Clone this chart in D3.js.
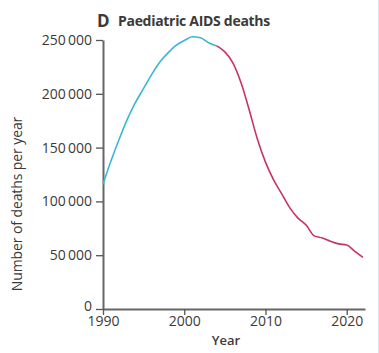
<!DOCTYPE html>
<html>
<head>
<meta charset="utf-8">
<script src="https://cdn.jsdelivr.net/npm/d3@7"></script>
<style>
  body { margin: 0; background: #fff; }
  text { font-family: "Open Sans", sans-serif; fill: #3a3a3a; }
</style>
</head>
<body>
<div id="chart-area"></div>
<script>
var years = d3.range(1990, 2023);
var deaths = [116000, 138000, 158000, 176500, 192000, 205000, 218000, 229500, 238000, 245000,
  249500, 253000, 252000, 247500, 244500, 239000, 228500, 210000, 185000, 158000,
  136500, 120000, 107000, 94000, 84500, 78000, 68000, 66000, 63000, 60500,
  59500, 53500, 48000];
var splitYear = 2004;
var yTicks = [0, 50000, 100000, 150000, 200000, 250000];
var xTicks = [1990, 2000, 2010, 2020];

var data = years.map((d, i) => ({ year: d, value: deaths[i] }));

var svg = d3.select("#chart-area")
  .append("svg")
  .attr("width", 379)
  .attr("height", 353);

var x = d3.scaleLinear()
  .domain([1990, 2022.25])
  .range([103, 365]);

var y = d3.scaleLinear()
  .domain([0, 250000])
  .range([309, 40]);

var fmt = d => d3.format(",")(d).replace(/,/g, "\u2009");

// Y axis
var yAxis = svg.append("g")
  .attr("transform", "translate(103,0)")
  .call(d3.axisLeft(y).tickValues(yTicks).tickSize(7).tickPadding(4).tickFormat(fmt).tickSizeOuter(0));
yAxis.select(".domain").attr("stroke", "#666").attr("stroke-width", 2);
yAxis.selectAll(".tick line").attr("stroke", "#555").attr("stroke-width", 1.3);
yAxis.selectAll("text").attr("font-size", "14px").attr("fill", "#3a3a3a").attr("font-family", "Open Sans");
yAxis.selectAll(".tick").filter(d => d === 0).select("text").attr("dy", "0.08em");

// X axis
var xAxis = svg.append("g")
  .attr("transform", "translate(0,309)")
  .call(d3.axisBottom(x).tickValues(xTicks).tickSize(6).tickPadding(1.5).tickFormat(d3.format("d")).tickSizeOuter(0));
xAxis.select(".domain").attr("stroke", "#666").attr("stroke-width", 2);
xAxis.selectAll(".tick line").attr("stroke", "#555").attr("stroke-width", 1.3);
xAxis.selectAll("text").attr("font-size", "14px").attr("fill", "#3a3a3a").attr("font-family", "Open Sans");

// Lines
var line = d3.line()
  .x(d => x(d.year))
  .y(d => y(d.value))
  .curve(d3.curveMonotoneX);

svg.append("path")
  .datum(data.filter(d => d.year <= splitYear))
  .attr("fill", "none")
  .attr("stroke", "#3bb6d3")
  .attr("stroke-width", 1.6)
  .attr("d", line);

svg.append("path")
  .datum(data.filter(d => d.year >= splitYear))
  .attr("fill", "none")
  .attr("stroke", "#c83462")
  .attr("stroke-width", 1.6)
  .attr("d", line);

// Labels
svg.append("text")
  .attr("x", 226)
  .attr("y", 345)
  .attr("text-anchor", "middle")
  .attr("font-size", "13px")
  .attr("font-weight", 600)
  .attr("fill", "#444")
  .text("Year");

svg.append("text")
  .attr("transform", "translate(22,204) rotate(-90)")
  .attr("text-anchor", "middle")
  .attr("font-size", "14px")
  .attr("letter-spacing", "-0.1px")
  .text("Number of deaths per year");

svg.append("text")
  .attr("x", 97)
  .attr("y", 27)
  .attr("font-size", "17px")
  .attr("font-weight", 700)
  .attr("fill", "#222")
  .text("D");

svg.append("text")
  .attr("x", 118)
  .attr("y", 26)
  .attr("font-size", "14px")
  .attr("font-weight", 700)
  .attr("letter-spacing", "-0.3px")
  .attr("fill", "#333")
  .text("Paediatric AIDS deaths");

// faint right border
svg.append("line")
  .attr("x1", 378.5).attr("x2", 378.5)
  .attr("y1", 0).attr("y2", 353)
  .attr("stroke", "#dde4ee");
</script>
</body>
</html>
